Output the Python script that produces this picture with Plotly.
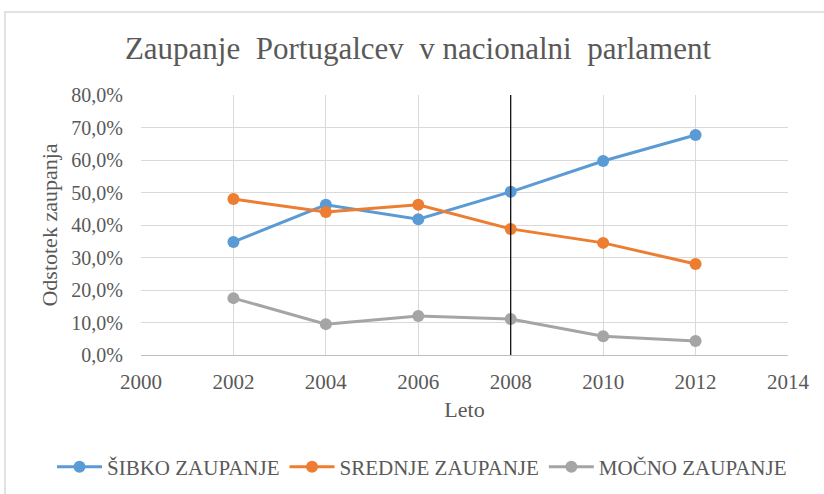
import plotly.graph_objects as go

years = [2002, 2004, 2006, 2008, 2010, 2012]
sibko = [0.348, 0.462, 0.418, 0.502, 0.597, 0.677]
srednje = [0.480, 0.440, 0.462, 0.388, 0.345, 0.280]
mocno = [0.175, 0.095, 0.120, 0.111, 0.058, 0.043]
series_names = ["ŠIBKO ZAUPANJE", "SREDNJE ZAUPANJE", "MOČNO ZAUPANJE"]
colors = ["#5B9BD5", "#ED7D31", "#A5A5A5"]
marker_year = 2008

font_family = "Liberation Serif, Times New Roman, Times, serif"
txt = "#595959"

fig = go.Figure()
for name, vals, c in zip(series_names, [sibko, srednje, mocno], colors):
    fig.add_trace(go.Scatter(
        x=years, y=vals, name=name, mode="lines+markers",
        line=dict(color=c, width=3),
        marker=dict(color=c, size=12),
    ))

fig.add_shape(type="line", xref="x", yref="y", x0=marker_year, x1=marker_year,
              y0=0, y1=0.8, line=dict(color="#000000", width=1.2), layer="above")

# outer chart frame
L, R, T, B = 141, 788, 95, 355
pw, ph = R - L, B - T
fig.add_shape(type="rect", xref="paper", yref="paper",
              x0=(5 - L) / pw, x1=(840 - L) / pw,
              y0=(B - 510) / ph, y1=(B - 12) / ph,
              line=dict(color="#D9D9D9", width=1.5), fillcolor="rgba(0,0,0,0)", layer="below")

fig.update_layout(
    width=824, height=494,
    margin=dict(l=L, r=824 - R, t=T, b=494 - B, autoexpand=False),
    paper_bgcolor="white", plot_bgcolor="white",
    separators=",.",
    font=dict(family=font_family, color=txt, size=20),
    title=dict(text="Zaupanje  Portugalcev  v nacionalni  parlament",
               x=(418 - L) / pw, xref="paper", xanchor="center", y=1 - 48 / 494, yanchor="middle",
               font=dict(size=31, color=txt, family=font_family)),
    showlegend=True,
    legend=dict(orientation="h", x=(52 - L) / pw, xanchor="left", y=(B - 467) / ph, yanchor="middle",
                font=dict(size=21, color=txt, family=font_family), itemwidth=45,
                bgcolor="rgba(0,0,0,0)", tracegroupgap=0),
    xaxis=dict(range=[2000, 2014], tickmode="linear", tick0=2000, dtick=2,
               showgrid=True, gridcolor="#D9D9D9", gridwidth=1,
               zeroline=False, showline=True, linecolor="#BFBFBF",
               tickfont=dict(size=21, color=txt), ticks="", ticklabelstandoff=8,
               title=dict(text="Leto", font=dict(size=22, color=txt), standoff=8)),
    yaxis=dict(range=[0, 0.8], tickmode="linear", tick0=0, dtick=0.1,
               tickformat=".1%", showgrid=True, gridcolor="#D9D9D9", gridwidth=1,
               zeroline=False, showline=False,
               tickfont=dict(size=20, color=txt), ticks="", ticklabelstandoff=17,
               title=dict(text="Odstotek zaupanja", font=dict(size=22, color=txt), standoff=7)),
)

fig.write_html("out.html", config={"displayModeBar": False},
               post_script="document.body.style.margin='0';")
